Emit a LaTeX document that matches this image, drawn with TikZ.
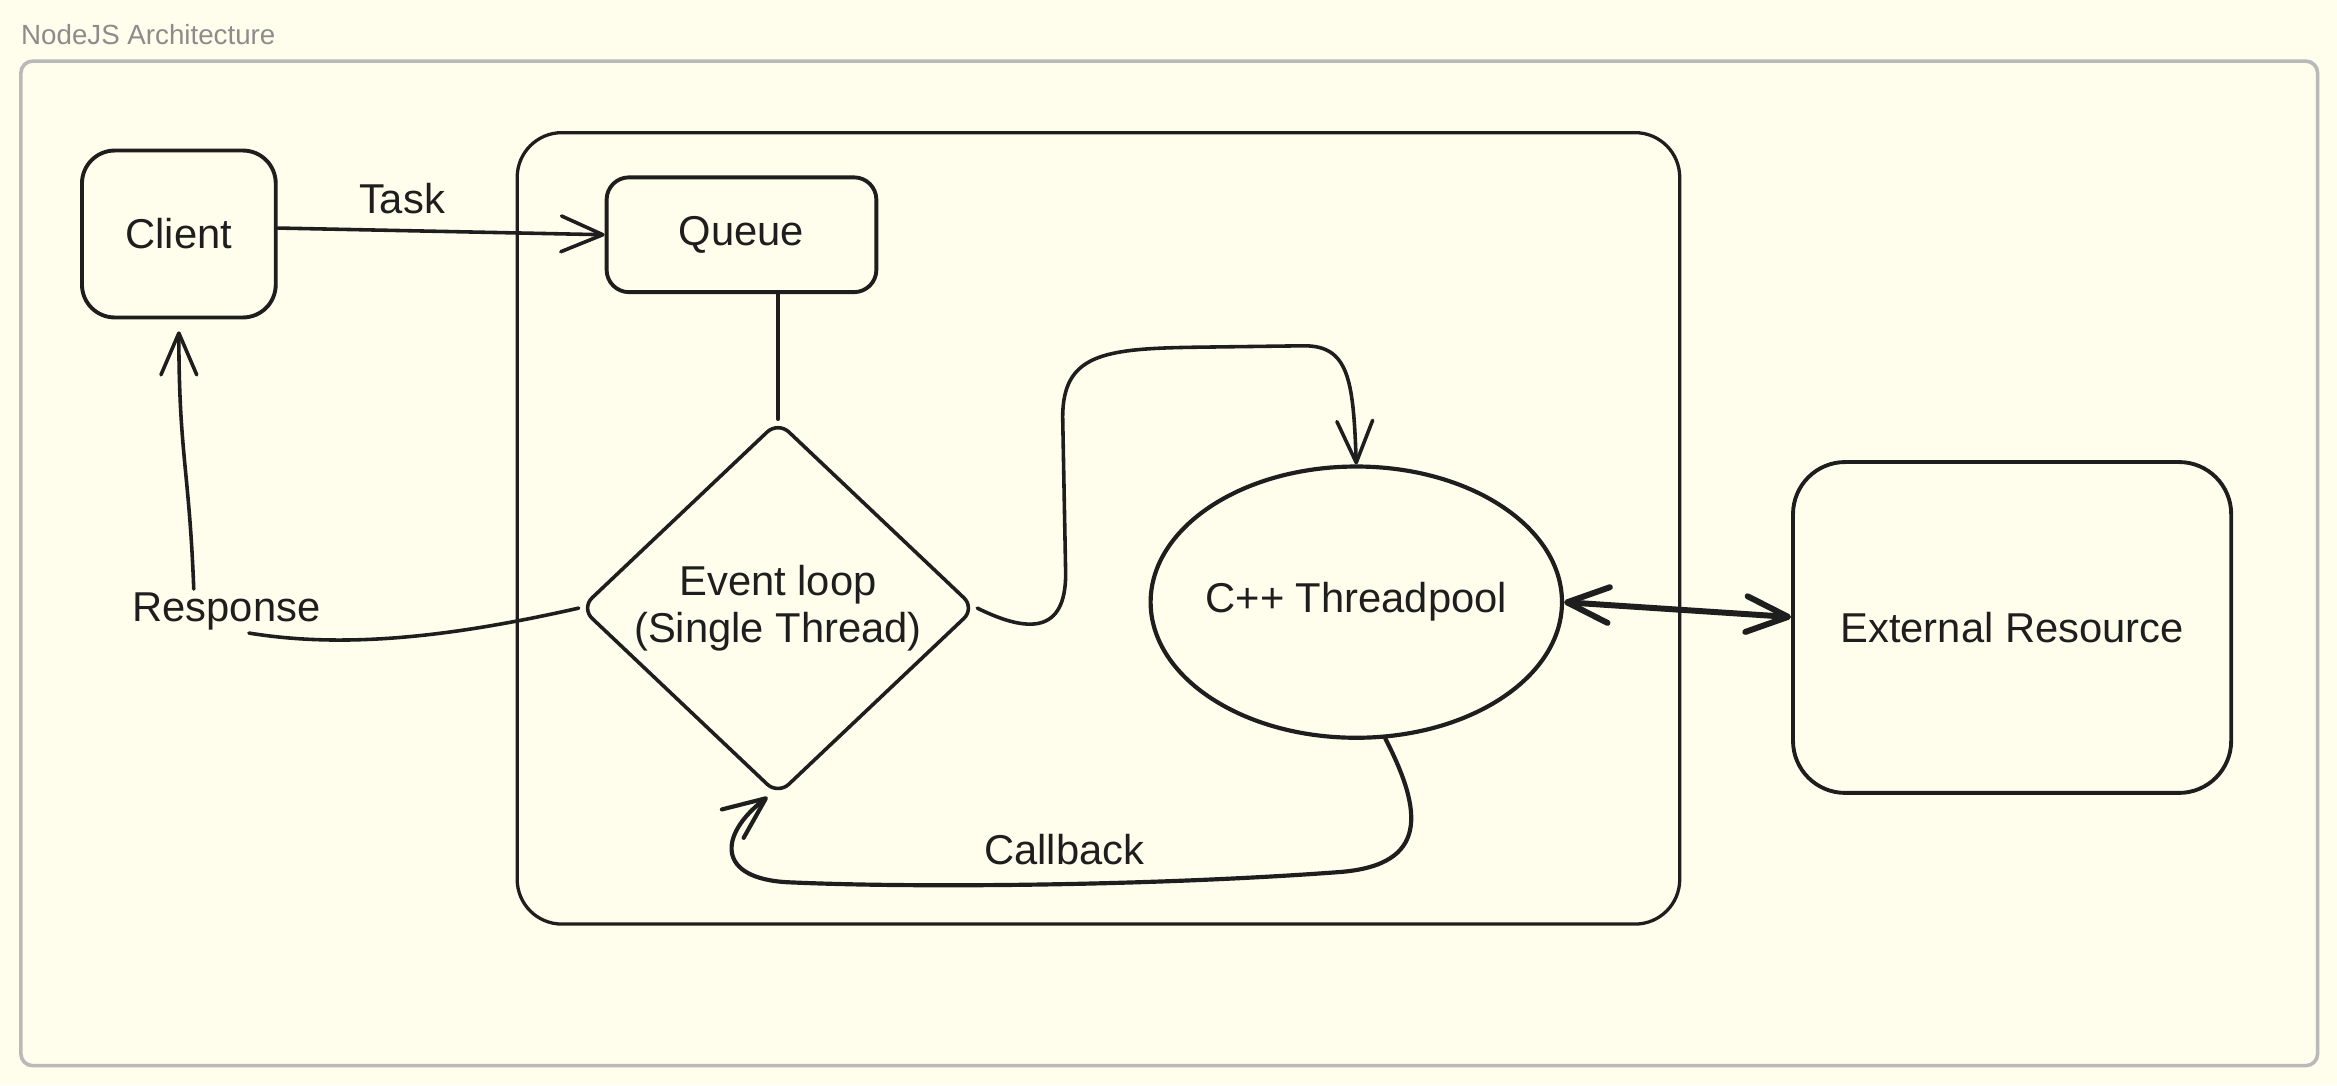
\documentclass[tikz,border=0pt]{standalone}
\usepackage{fontspec}
\setmainfont{Liberation Sans}
\usetikzlibrary{shapes.geometric,arrows.meta}
\definecolor{paper}{RGB}{255,254,236}
\definecolor{ink}{RGB}{30,30,30}
\definecolor{framegray}{RGB}{185,185,185}
\definecolor{titlegray}{RGB}{140,140,140}

\begin{document}
\begin{tikzpicture}[x=1pt,y=-1pt,
        hand/.style={font=\fontsize{28}{32}\selectfont, text=ink},
        box/.style={draw=ink, line width=2.6pt, rounded corners=#1, inner sep=0pt, hand},
        box/.default=20pt,
        lbl/.style={hand, inner sep=2pt},
        link/.style={draw=ink, line width=2.4pt, line cap=round},
        barb/.tip={Straight Barb[length=28pt,width=24pt,round]},
        arr/.style={link, -barb}]
        \fill[paper] (0,0) rectangle (1568,728);
        \useasboundingbox (0,0) rectangle (1568,728);
        \draw[framegray, line width=2.4pt, rounded corners=8pt] (14,41) rectangle (1555,715);
        \node[anchor=base west, text=titlegray, font=\fontsize{18.6}{20}\selectfont, inner sep=0pt] (title) at (14,30) {NodeJS Architecture};
        \draw[ink, line width=2.2pt, rounded corners=30pt] (347,89) rectangle (1127,620);

        \node[box=22pt, minimum width=130pt, minimum height=112pt] (client) at (120,157) {Client};
        \node[box=15pt, minimum width=181pt, minimum height=77pt] (queue) at (497.5,157.5) {Queue};
        \node[draw=ink, line width=2.4pt, diamond, rounded corners=10pt, minimum width=265pt, minimum height=244pt, inner sep=0pt, align=center, hand] (loop) at (522,408) {Event loop\\(Single Thread)};
        \node[draw=ink, line width=2.8pt, ellipse, minimum width=276pt, minimum height=182pt, inner sep=0pt, inner xsep=-10pt, hand] (pool) at (910,404) {C++ Threadpool};
        \node[box=35pt, minimum width=294pt, minimum height=222pt] (ext) at (1350,421) {External Resource};
        \node[lbl] (resp) at (152,410) {Response};
        \node[lbl] (cb) at (714,570) {Callback};

        \draw[arr] ([yshift=4pt]client.east) -- node[lbl, pos=0.38, above=8pt] (task) {Task} (queue.west);
        \draw[link] (queue.south -| loop.north) -- (loop.north);
        \draw[link] (loop.west) .. controls (300,428) and (230,435) .. ([xshift=15pt]resp.south);
        \draw[arr, shorten >=8pt] ([xshift=-22pt]resp.north) .. controls +(-3,-80) and +(0,90) .. (client.south);
        \draw[arr] (loop.east) .. controls (690,425) and (715,425) .. (715,385) -- (713,280) .. controls (713,238) and (740,234) .. (800,233) -- (875,232) .. controls (905,232) and (908,255) .. (pool.north);
        \draw[link, line width=4pt, barb-barb] (pool.east) -- ([yshift=7pt]ext.west);
        \draw[arr, line width=2.8pt] (pool.-78) .. controls (955,545) and (958,580) .. (900,585) .. controls (780,594) and (620,596) .. (530,592) .. controls (480,590) and (482,560) .. ([xshift=-7pt]loop.south);
\end{tikzpicture}
\end{document}
